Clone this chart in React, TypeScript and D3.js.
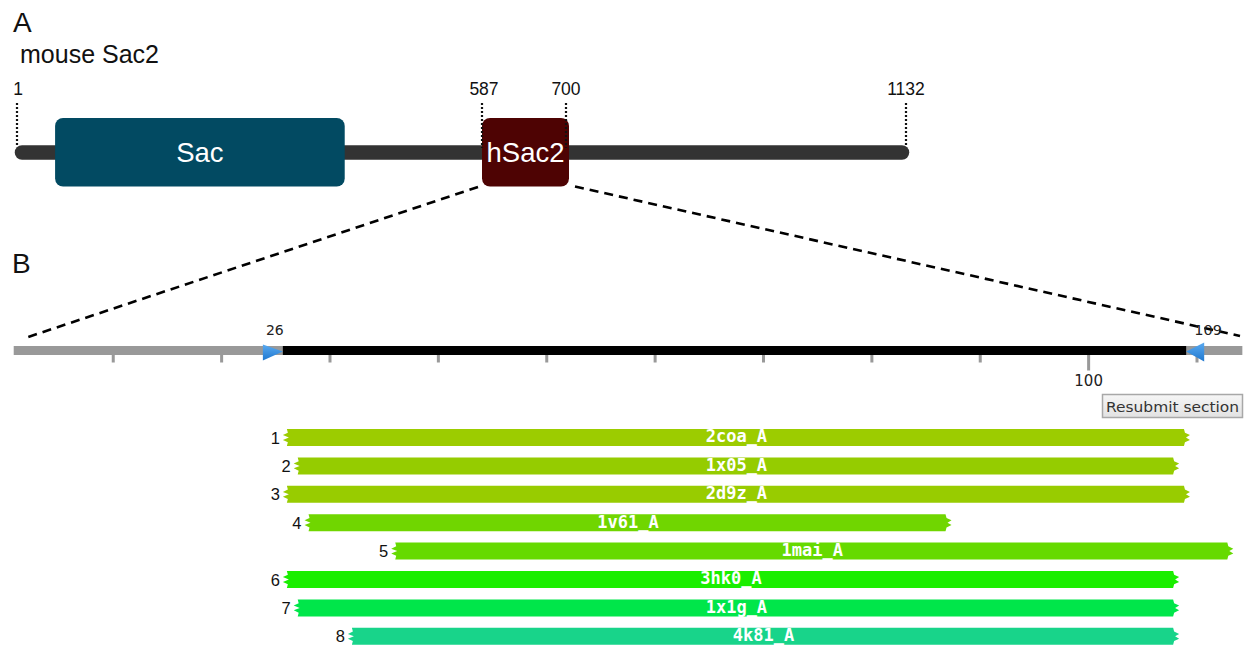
import React from "react";
import * as d3 from "d3";

// Panel A: protein domain map
const proteinLength = 1132;
const markerPositions = [1, 587, 700, 1132];
const markerLabels = ["1", "587", "700", "1132"];
const markerPixels = [17, 482, 566, 906]; // figure is not drawn to scale
const domainNames = ["Sac", "hSac2"];
const domainStart = [49, 587];
const domainEnd = [414, 700];
const domainColors = ["#024a62", "#4e0303"];

// Panel B: hSac2 section and structural hits
const sectionLength = 114;
const sectionStart = 26;
const sectionEnd = 109;
const axisTicks = [10, 20, 30, 40, 50, 60, 70, 80, 90, 100, 110];
const labelledTicks = [100];
const hitIds = ["2coa_A", "1x05_A", "2d9z_A", "1v61_A", "1mai_A", "3hk0_A", "1x1g_A", "4k81_A"];
const hitStart = [26, 27, 26, 28, 36, 26, 27, 32];
const hitEnd = [109, 108, 109, 87, 113, 108, 108, 108];
const hitColors = ["#9ccc00", "#95cc00", "#98cc00", "#70d600", "#66da00", "#1aee00", "#00e64a", "#18d48a"];

const W = 1246;
const H = 649;

function barPath(x0: number, x1: number, yc: number, h: number) {
  const y0 = yc - h / 2;
  const y1 = yc + h / 2;
  const n = 6;
  const p = d3.path();
  p.moveTo(x0 + n - 2, y0);
  p.lineTo(x1 - n, y0);
  p.lineTo(x1 - n + 1, y0 + h * 0.22);
  p.lineTo(x1, y0 + h * 0.36);
  p.lineTo(x1 - n + 2, y0 + h * 0.5);
  p.lineTo(x1, y0 + h * 0.64);
  p.lineTo(x1 - n + 1, y0 + h * 0.78);
  p.lineTo(x1 - n, y1);
  p.lineTo(x0 + n - 2, y1);
  p.lineTo(x0 + n - 1, y0 + h * 0.78);
  p.lineTo(x0, y0 + h * 0.64);
  p.lineTo(x0 + n, y0 + h * 0.5);
  p.lineTo(x0, y0 + h * 0.36);
  p.lineTo(x0 + n - 1, y0 + h * 0.22);
  p.closePath();
  return p.toString();
}

export default function App() {
  const xA = d3.scaleLinear().domain(markerPositions).range(markerPixels);
  const xB = d3.scaleLinear().domain([30, 110]).range([330, 1197]);
  const yBar = d3.scalePoint<number>().domain(d3.range(hitIds.length)).range([437.5, 636.3]);

  const backboneY = 152.5;
  const axisY = 350.5;
  const sans = "'Liberation Sans', Arial, Helvetica, sans-serif";
  const dv = "'DejaVu Sans', Verdana, sans-serif";

  const hS = xA(domainStart[1]);
  const hE = xA(domainEnd[1]) + 3;

  return (
    <svg width={W} height={H} style={{ position: "absolute", left: 0, top: 0, background: "#fff" }}>
      <defs>
        <linearGradient id="arrowGrad" x1="0" y1="0" x2="0" y2="1">
          <stop offset="0" stopColor="#5aaaf0" />
          <stop offset="1" stopColor="#1f78d0" />
        </linearGradient>
        <linearGradient id="btnGrad" x1="0" y1="0" x2="0" y2="1">
          <stop offset="0" stopColor="#f6f6f6" />
          <stop offset="1" stopColor="#e2e2e2" />
        </linearGradient>
      </defs>

      {/* Panel A */}
      <text x={13} y={32} fontFamily={sans} fontSize={28} fill="#111">A</text>
      <text x={20} y={63} fontFamily={sans} fontSize={25} fill="#111">mouse Sac2</text>

      <line x1={xA(1) + 5} x2={xA(proteinLength) - 4} y1={backboneY} y2={backboneY}
        stroke="#333" strokeWidth={14.5} strokeLinecap="round" />

      {domainNames.map((name, i) => {
        const x0 = i === 1 ? hS : xA(domainStart[i]);
        const x1 = i === 1 ? hE : xA(domainEnd[i]);
        return (
          <g key={name}>
            <rect x={x0} y={118} width={x1 - x0} height={68.5} rx={8} fill={domainColors[i]} />
            <text x={(x0 + x1) / 2} y={backboneY + 9.5} textAnchor="middle" fontFamily={sans}
              fontSize={27.5} fill="#fff">{name}</text>
          </g>
        );
      })}

      {markerPositions.map((m, i) => (
        <g key={m}>
          <line x1={xA(m)} x2={xA(m)} y1={103} y2={i === 0 || i === 3 ? 146 : 148}
            stroke="#111" strokeWidth={2.2} strokeDasharray="2,2" />
          <text x={xA(m) + (i === 0 ? 1 : i === 1 ? 2 : 0)} y={95} textAnchor="middle"
            fontFamily={sans} fontSize={17.5} fill="#111">{markerLabels[i]}</text>
        </g>
      ))}

      {/* zoom lines */}
      <line x1={hS - 4} y1={187} x2={28} y2={337} stroke="#000" strokeWidth={2.6} strokeDasharray="9,6" />
      <line x1={hE + 6} y1={186.5} x2={1240} y2={336} stroke="#000" strokeWidth={2.6} strokeDasharray="9,6" />

      {/* Panel B */}
      <text x={12} y={273} fontFamily={sans} fontSize={28} fill="#111">B</text>

      <rect x={xB(1) - 2} y={axisY - 4.5} width={xB(sectionLength) - xB(1) + 4} height={9} fill="#999" />
      {axisTicks.map((t) => (
        <rect key={t} x={xB(t) - 1.5} y={axisY + 4} width={3}
          height={labelledTicks.includes(t) ? 16 : 8} fill="#999" />
      ))}
      <rect x={xB(sectionStart - 0.35)} y={axisY - 4.5}
        width={xB(sectionEnd) - xB(sectionStart - 0.35)} height={9} fill="#000" />
      {labelledTicks.map((t) => (
        <text key={t} x={xB(t)} y={386} textAnchor="middle" fontFamily={dv} fontSize={15} fill="#222">{t}</text>
      ))}

      {/* section arrows */}
      <path d={`M${xB(sectionStart - 0.35) - 20},${axisY - 6} L${xB(sectionStart - 0.35)},${axisY + 1} L${xB(sectionStart - 0.35) - 20},${axisY + 10} Z`}
        fill="url(#arrowGrad)" />
      <path d={`M${xB(sectionEnd) + 18},${axisY - 8} L${xB(sectionEnd)},${axisY + 1} L${xB(sectionEnd) + 18},${axisY + 11} Z`}
        fill="url(#arrowGrad)" />
      <text x={xB(sectionStart - 0.35) - 8} y={335} textAnchor="middle" fontFamily={dv} fontSize={14} fill="#222">{sectionStart}</text>
      <text x={xB(sectionEnd) + 22} y={335} textAnchor="middle" fontFamily={dv} fontSize={14.5} fill="#222">{sectionEnd}</text>

      {/* resubmit button */}
      <rect x={1102.5} y={394.5} width={140} height={23} fill="url(#btnGrad)" stroke="#a8a8a8" strokeWidth={1.5} />
      <text x={1172.5} y={411.5} textAnchor="middle" fontFamily={dv} fontSize={14.6} fill="#333"
        textLength={133} lengthAdjust="spacingAndGlyphs">Resubmit section</text>

      {/* hits */}
      {hitIds.map((id, i) => {
        const x0 = xB(hitStart[i] - 0.35);
        const x1 = xB(hitEnd[i] + 0.35);
        const yc = yBar(i) as number;
        return (
          <g key={id}>
            <path d={barPath(x0, x1, yc, 17)} fill={hitColors[i]} />
            <text x={(x0 + x1) / 2} y={yc + 4.8} textAnchor="middle" fontFamily="'DejaVu Sans Mono', monospace"
              fontWeight="bold" fontSize={17} fill="#fff">{id}</text>
            <text x={x0 - 3} y={yc + 6} textAnchor="end" fontFamily={sans} fontSize={16.5} fill="#111">{i + 1}</text>
          </g>
        );
      })}
    </svg>
  );
}
